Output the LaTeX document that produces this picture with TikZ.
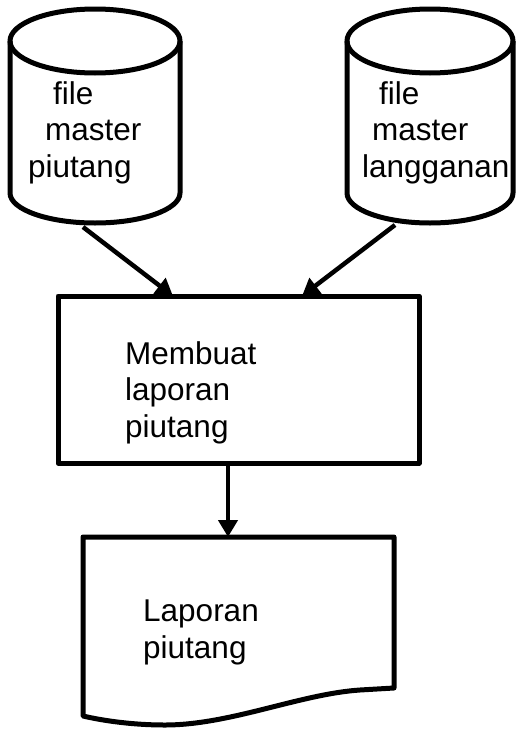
\documentclass[tikz,border=0pt]{standalone}
\usepackage{fontspec}
\setmainfont{Liberation Sans}
\usetikzlibrary{arrows.meta}
\tikzset{
  shapeline/.style={line width=5pt, line join=round},
  flow/.style={line width=4.5pt, -{Triangle[length=17pt,width=19pt]}},
  label/.style={inner sep=0pt, anchor=base west, align=left, font=\fontsize{31.5pt}{36.5pt}\selectfont},
}
\begin{document}
\begin{tikzpicture}[x=1pt,y=-1pt]
\useasboundingbox (0,0) rectangle (516,731);
% left cylinder
\draw[shapeline] (10,41) -- (10,193) arc (180:0:85 and 30) -- (180,41);
\draw[shapeline] (95,41) ellipse [x radius=85, y radius=32];
\node[label] (t1) at (28,177) {\hspace*{25pt}file\\\hspace*{17pt}master\\piutang};
\coordinate (c1out) at (83,227);
% right cylinder
\draw[shapeline] (347,41) -- (347,193) arc (180:0:83 and 30) -- (513,41);
\draw[shapeline] (430,41) ellipse [x radius=83, y radius=32];
\node[label] (t2) at (362,177) {\hspace*{17pt}file\\\hspace*{10pt}master\\langganan};
\coordinate (c2out) at (395,225);
% process box
\node[draw, shapeline, minimum width=361pt, minimum height=167pt, inner sep=0pt] (proc) at (238.5,379.5) {};
\node[label] (t3) at (125,437) {Membuat\\laporan\\piutang};
\coordinate (in1) at (173,296);
\coordinate (in2) at (302,296);
% document
\draw[shapeline] (83,537) -- (394,537) -- (394,688) -- (360,690)
  .. controls (300,694) and (230,725) .. (165,725)
  .. controls (130,725) and (100,720) .. (83,716) -- cycle;
\coordinate (doctop) at (228,537);
\node[label] (t4) at (143,658) {Laporan\\piutang};
% connectors
\draw[flow] (c1out) -- (in1);
\draw[flow] (c2out) -- (in2);
\draw[flow] (proc.south -| doctop) -- (doctop);
\end{tikzpicture}
\end{document}
